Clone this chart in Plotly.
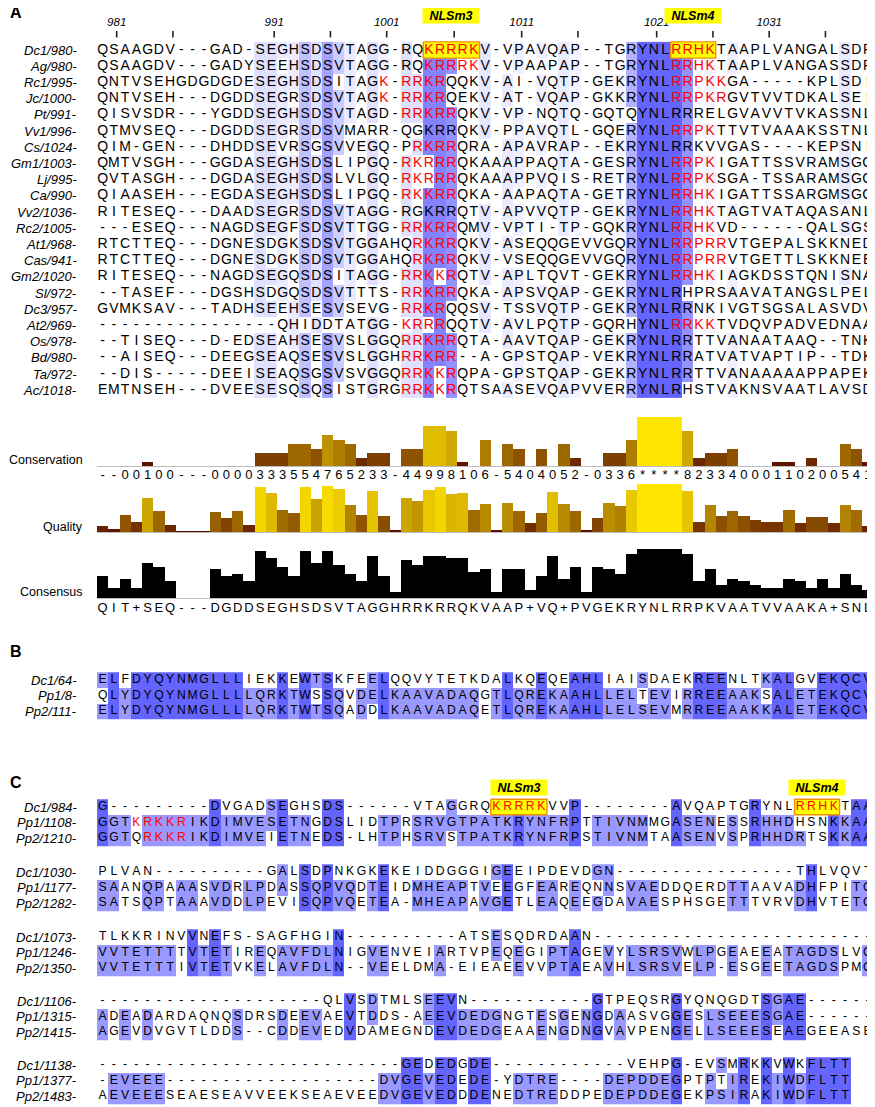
import plotly.graph_objects as go
from collections import Counter

# ------------------------------------------------------------------
# DATA
# ------------------------------------------------------------------
# Panel A : multiple alignment around the NLSm3 / NLSm4 motifs
A_NAMES = ["Dc1/980-", "Ag/980-", "Rc1/995-", "Jc/1000-", "Pt/991-", "Vv1/996-",
           "Cs/1024-", "Gm1/1003-", "Lj/995-", "Ca/990-", "Vv2/1036-", "Rc2/1005-",
           "At1/968-", "Cas/941-", "Gm2/1020-", "Sl/972-", "Dc3/957-", "At2/969-",
           "Os/978-", "Bd/980-", "Ta/972-", "Ac/1018-"]
A_SEQS = [
    "QSAAGDV---GAD-SEGHSDSVTAGG-RQKRRRKV-VPAVQAP--TGRYNLRRHKTAAPLVANGALSDP",
    "QSAAGDV---GADYSEEHSDSVTAGG-RQKRRRKV-VPAAPAP--TGRYNLRRHKTAAPLVANGASSDP",
    "QNTVSEHGDGDGDESEGHSDSITAGK-RRKRQQKV-AI-VQTP-GEKRYNLRRPKKGA-----KPLSDI",
    "QNTVSEH---DGDDSEGRSDSVTAGK-RRKRQEKV-AT-VQAP-GKKRYNLRRPKRGVTVVTDKALSEI",
    "QISVSDR---YGDDSEGHSDSVTAGD-RRKRRQKV-VP-NQTQ-GQTQYNLRRRELGVAVVTVKASSNL",
    "QTMVSEQ---DGDDSEGRSDSVMARR-QGKRRQKV-PPAVQTL-GQERYNLRRPKTTVTVAAAKSSTNL",
    "QIM-GEN---DHDDSEVRSGSVVEGQ-PRKRRQRA-APAVRAP--EKRYNLRRKVVGAS----KEPSNI",
    "QMTVSGH---GGDASEGHSDSLIPGQ-RKRRRQKAAAPPAQTA-GESRYNLRRPKIGATTSSVRAMSGG",
    "QVTASGH---DGDASEGHSDSLVLGQ-RKRRRQKAAAPPVQIS-RETRYNLRRPKSGA-TSSARAMSGG",
    "QIAASEH---EGDASEGHSDSLIPGQ-RKKRRQKA-AAPAQTA-GETRYNLRRHKIGATTSSARGMSGG",
    "RITESEQ---DAADSEGRSDSVTAGG-RGKRRQTV-APVVQTP-GEKRYNLRRHKTAGTVATAQASANL",
    "---ESEQ---NAGDSEGFSDSVTTGG-RRKRRQMV-VPTI-TP-GQKRYNLRRHKVD------QALSGS",
    "RTCTTEQ---DGNESDGKSDSVTGGAHQRKRRQKV-ASEQQGEVVGQRYNLRRPRRVTGEPALSKKNED",
    "RTCTTEQ---DGNESDGKSDSVTGGAHQRKRRQKV-VSEQQGEVVGQRYNLRRPRRVTGETTLSKKNEE",
    "RITESEQ---NAGDSEGQSDSITAGG-RRKKRQTV-APLTQVT-GEKRYNLRRHKIAGKDSSTQNISNA",
    "--TASEF---DGSHSDGQSDSVTTTS-RRKRRQKA-APSVQAP-GEKRYNLRHPRSAAVATANGSLPEL",
    "GVMKSAV---TADHSEEHSESVSEVG-RRKRQQSV-TSSVQTP-GEKRYNLRRNKIVGTSGSALASVDV",
    "----------------QHIDDTATGG-KRRRQQTV-AVLPQTP-GQRHYNLRRKKTVDQVPADVEDNAA",
    "--TISEQ---D-EDSEAHSESVSLGGQRRKRRQTA-AAVTQAP-GEKRYNLRRTTVANAATAAQ--TNK",
    "--AISEQ---DEEGSEAQSESVSLGGHRRKRR--A-GPSTQAP-VEKRYNLRRATVATVAPTIP--TDK",
    "--DIS-----DEEISEAQSGSVSVGGQRRKKRQPA-GPSTQAP-GEKRYNLRRTTVANAAAAAPPAPEK",
    "EMTNSEH---DVEESESQSQSISTGRGRRKKRQTSAASEVQAPVVERRYNLRHSTVAKNSVAATLAVSD",
]
# red (basic NLS) residues per row, as (first column, last column), 1-based
A_RED = [
    [(30, 34), (52, 55)], [(30, 34), (52, 55)], [(26, 26), (28, 31), (52, 56)],
    [(26, 26), (28, 31), (52, 56)], [(28, 32)], [(52, 55)], [(29, 32)],
    [(28, 32), (52, 55)], [(28, 32), (52, 55)], [(28, 32), (52, 55)], [(52, 55)],
    [(28, 32), (52, 55)], [(29, 32), (52, 56)], [(29, 32), (52, 56)],
    [(28, 32), (52, 55)], [(28, 32)], [(28, 31)], [(28, 31), (52, 55)],
    [(28, 32)], [(28, 32)], [(28, 32)], [(28, 32)],
]
A_BOXED = {0: [(30, 34), (52, 55)]}          # yellow-boxed motifs (row -> ranges)
A_NLS_LABELS = [("NLSm3", 30, 34), ("NLSm4", 52, 55)]
A_RULER_START = 980                           # number of first Dc1 residue
A_CONSERVATION = "--00100---0000333554765233-44998106-5404052-0336****82334000110200541"
A_QUALITY = [15, 9, 37, 22, 72, 45, 17, 3, 3, 3, 42, 30, 45, 17, 93, 81, 47, 40, 93, 70,
             95, 89, 57, 37, 85, 34, 7, 72, 65, 87, 93, 79, 81, 47, 60, 7, 62, 45, 20, 40,
             83, 60, 45, 7, 30, 62, 56, 87, 100, 100, 100, 100, 85, 23, 58, 35, 45, 35, 27, 23,
             23, 47, 20, 32, 32, 20, 57, 47, 15]
A_CONSENSUS = "QIT+SEQ---DGDDSEGHSDSVTAGGHRRKRRQKVAAP+VQ+PVGEKRYNLRRPKVAATVVAAKA+SNL"

# Panel B
B_NAMES = ["Dc1/64-", "Pp1/8-", "Pp2/111-"]
B_SEQS = [
    "ELFDYQYNMGLLLIEKKEWTSKFEELQQVYTETKDALKQEQEAHLIAISDAEKREENLTKALGVEKQCV",
    "QLYDYQYNMGLLLLQRKTWSSQVDELKAAVADAQGTLQREKAAHLLELTEVIRREEAAKSALETEKQCV",
    "ELYDYQYNMGLLLLQRKTWTSQADDLKAAVADAQETLQREKAAHLLELSEVMRREEAAKKALETEKQCV",
]

# Panel C (five wrapped blocks)
C_NAMES = [
    ["Dc1/984-", "Pp1/1108-", "Pp2/1210-"],
    ["Dc1/1030-", "Pp1/1177-", "Pp2/1282-"],
    ["Dc1/1073-", "Pp1/1246-", "Pp2/1350-"],
    ["Dc1/1106-", "Pp1/1315-", "Pp2/1415-"],
    ["Dc1/1138-", "Pp1/1377-", "Pp2/1483-"],
]
C_SEQS = [
    ["G---------DVGADSEGHSDS------VTAGGRQKRRRKVVP--------AVQAPTGRYNLRRHKTAA",
     "GGTKRKKRIKDIMVESETNGDSLIDTPRSRVGTPATKRYNFRPTTIVNMMGASENESSRHHDHSNKKAA",
     "GGTQRKKRIKDIMVEIETNEDS-LHTPHSRVSTPATKRYNFRPSTIVNMTAASENVSPRHHDRTSKKAA"],
    ["PLVAN----------GALSDPNKGKEKEIDDGGGIGEEIPDEVDGN----------------THLVQVT",
     "SAANQPAAASVDRLPDASSQPVQDTEIDMHEAPTVEEGFEAREQNNSVAEDDQERDTTAAVADHFPITQ",
     "SATSQPTAAAVDDLPEVISQPVQETEA-MHEAPAVGETLEAQEEGDAVAESPHSGETTTVRVDHVTETQ"],
    ["TLKKRINVVNEFS-SAGFHGIN----------ATSESQDRDAAN-------------------------",
     "VVTETTTTVTETIREQAVFDLNIGVENVEIARTVPEQEGIPTAGEVYLSRSVWLPGEAEEATAGDSLVQ",
     "VVTETTTIVTETVKELAVFDLN--VEELDMA-EIEAEEVVPTAEAVHLSRSVELP-ESGEETAGDSPMQ"],
    ["--------------------QLVSDTMLSEEVN-----------GTPEQSRGYQNQGDTSGAE------",
     "ADEADARDAQNQSDRSDEEVAEVTDDS-AEEVDEDGNGTESGENGDAASVGGESLSEEESGAE------",
     "AGEVDVGVTLDDS--CDDEVEDVDAMEGNDEVDEDGEAAENGDNGVAVPENGELLSEEESEAEGEEASE"],
    ["---------------------------GEDEDGDE------------VEHPG-EVSMRKKVWKFLTT",
     "-EVEEE-------------------DVGEVEDEDE-YDTRE----DEPDDEGPTPTIREKIWDFLTT",
     "AEVEEESEAESEAVVEEKSEAEVEEDVGEVEDDDENEDTREDDPEDEPDDEGEKPSIRAKIWDFLTT"],
]
C_RED = {(0, 1): [(4, 8)], (0, 2): [(5, 8)]}        # (block,row) -> ranges
C_BOXED = {(0, 0): [(36, 40), (63, 66)]}
C_NLS_LABELS = [("NLSm3", 36, 40), ("NLSm4", 63, 66)]

# ------------------------------------------------------------------
# LAYOUT CONSTANTS (page pixels; the page body has an 8 px margin)
# ------------------------------------------------------------------
PAGE_W, PAGE_H = 875, 1107
OFF = 8
FIG_W, FIG_H = PAGE_W - OFF, PAGE_H - OFF
COL_PX0 = 97.0
COL_W = 11.25
FONT = "Liberation Sans, Arial, Helvetica, sans-serif"
A_Y0, A_DY = 50.0, 16.2
B_Y0, BC_DY = 680.0, 15.5
C_Y0S = [807.0, 872.0, 937.0, 1001.0, 1065.0]
NAME_RIGHT_PX = 79
A_FS, BC_FS, NAME_FS = 14, 12.2, 13
RULER_SHIFT = 0.25          # ruler ticks sit slightly right of the column centre
BLUE_DARK = "#6464FF"


def px_x(p):
    return (p - COL_PX0) / COL_W + 0.5


fig = go.Figure()
annotations = []


def cons_weight(ch):
    if ch in "*+":
        return 1.0
    if ch == "-":
        return 0.0
    return max(0.0, min(1.0, (int(ch) - 1) / 10.0))


def pid_matrix(seqs, weights=None):
    n = len(seqs)
    L = max(len(s) for s in seqs)
    z = [[None] * L for _ in range(n)]
    for c in range(L):
        col = [s[c] for s in seqs if c < len(s)]
        cnt = Counter(ch for ch in col if ch != "-")
        if not cnt:
            continue
        m = max(cnt.values())
        modal = {k for k, v in cnt.items() if v == m}
        pct = 100.0 * m / n
        if pct > 80:
            t = 1.0
        elif pct > 60:
            t = 102 / 155
        elif pct > 40:
            t = 51 / 155
        else:
            continue
        w = 1.0 if weights is None else weights[c]
        if t * w <= 0.01:
            continue
        for r in range(n):
            if c < len(seqs[r]) and seqs[r][c] in modal:
                z[r][c] = t * w
    return z


def add_alignment(names, seqs, y0, dy, fs, red, boxed, weights=None):
    n = len(seqs)
    L = max(len(s) for s in seqs)
    ys = [y0 + i * dy for i in range(n)]
    xs = list(range(1, L + 1))
    z = pid_matrix(seqs, weights)
    fig.add_trace(go.Heatmap(x=xs, y=ys, z=z, zmin=0, zmax=1,
                             colorscale=[[0, "#FFFFFF"], [1, BLUE_DARK]],
                             showscale=False, hoverinfo="skip"))
    if boxed:
        zy = [[None] * L for _ in range(n)]
        for r, rngs in boxed.items():
            for a, b in rngs:
                for c in range(a, b + 1):
                    zy[r][c - 1] = 1
        fig.add_trace(go.Heatmap(x=xs, y=ys, z=zy, zmin=0, zmax=1,
                                 colorscale=[[0, "#FFFF00"], [1, "#FFFF00"]],
                                 showscale=False, hoverinfo="skip"))
        bx, by = [], []
        for r, rngs in boxed.items():
            for a, b in rngs:
                x0, x1 = a - 0.5, b + 0.5
                yt, yb = ys[r] - dy / 2, ys[r] + dy / 2
                bx += [x0, x1, x1, x0, x0, None]
                by += [yt, yt, yb, yb, yt, None]
        fig.add_trace(go.Scatter(x=bx, y=by, mode="lines", hoverinfo="skip",
                                 line=dict(color="#F29100", width=1.4), showlegend=False))
    kx, ky, kt, rx, ry, rt = [], [], [], [], [], []
    for r, s in enumerate(seqs):
        rr = list(red.get(r, [])) + list((boxed or {}).get(r, []))
        for c, ch in enumerate(s, start=1):
            if any(a <= c <= b for a, b in rr):
                rx.append(c); ry.append(ys[r]); rt.append(ch)
            else:
                kx.append(c); ky.append(ys[r]); kt.append(ch)
    fig.add_trace(go.Scatter(x=kx, y=ky, text=kt, mode="text", hoverinfo="skip",
                             textfont=dict(family=FONT, size=fs, color="black"),
                             showlegend=False))
    if rx:
        fig.add_trace(go.Scatter(x=rx, y=ry, text=rt, mode="text", hoverinfo="skip",
                                 textfont=dict(family=FONT, size=fs, color="#FF0000"),
                                 showlegend=False))
    for r, nm in enumerate(names):
        annotations.append(dict(x=px_x(NAME_RIGHT_PX), y=ys[r], xref="x", yref="y",
                                text="<i>%s</i>" % nm, showarrow=False,
                                xanchor="right", yanchor="middle",
                                font=dict(family=FONT, size=NAME_FS, color="black")))
    return ys


def nls_label(text, a, b, y):
    annotations.append(dict(x=(a + b) / 2.0, y=y, xref="x", yref="y",
                            text="<b><i>%s</i></b>" % text, showarrow=False,
                            xanchor="center", yanchor="middle", bgcolor="#FFFF00",
                            width=56, height=15, borderpad=0,
                            font=dict(family=FONT, size=12.5, color="black")))


def panel_label(text, y):
    annotations.append(dict(x=0, y=y, xref="paper", yref="y", text="<b>%s</b>" % text,
                            showarrow=False, xanchor="left", yanchor="middle",
                            font=dict(family=FONT, size=16, color="black")))


# ------------------------------------------------------------------
# PANEL A
# ------------------------------------------------------------------
panel_label("A", 12)
weights = [cons_weight(ch) for ch in A_CONSERVATION]
add_alignment(A_NAMES, A_SEQS, A_Y0, A_DY, A_FS,
              {i: r for i, r in enumerate(A_RED)}, A_BOXED, weights)
for nm, a, b in A_NLS_LABELS:
    nls_label(nm, a, b, 15)

# ruler from Dc1 residue numbering
tx, ty, lx, ly, lt = [], [], [], [], []
num = A_RULER_START - 1
for c, ch in enumerate(A_SEQS[0], start=1):
    if ch == "-":
        continue
    num += 1
    if num == A_RULER_START:
        continue
    if num % 5 == 1:
        tx += [c + RULER_SHIFT, c + RULER_SHIFT, None]; ty += [31, 37.5, None]
    if num % 10 == 1:
        lx.append(c + RULER_SHIFT); ly.append(23); lt.append("<i>%d</i>" % num)
fig.add_trace(go.Scatter(x=tx, y=ty, mode="lines", hoverinfo="skip", showlegend=False,
                         line=dict(color="#222222", width=1.6)))
fig.add_trace(go.Scatter(x=lx, y=ly, text=lt, mode="text", hoverinfo="skip",
                         showlegend=False,
                         textfont=dict(family=FONT, size=11.5, color="black")))

# annotation tracks
cols = list(range(1, len(A_CONSERVATION) + 1))


def grad(vprop):
    return "rgb(%d,%d,0)" % (round(255 * (0.3 + 0.7 * vprop)), round(255 * 0.9 * vprop))


cons_vals = [11 if ch in "*+" else (0 if ch == "-" else int(ch)) for ch in A_CONSERVATION]
qmax = max(A_QUALITY)
n_a = len(A_SEQS)
consensus_vals = []
for c in range(len(A_CONSENSUS)):
    cnt = Counter(s[c] for s in A_SEQS if s[c] != "-")
    v = 100.0 * max(cnt.values()) / n_a if cnt else 0
    consensus_vals.append(0 if A_CONSENSUS[c] == "-" else v)

for ax in ["y2", "y3", "y4"]:
    fig.add_trace(go.Scatter(x=[0.5, len(cols) + 0.5], y=[0, 0], mode="lines",
                             yaxis=ax, hoverinfo="skip", showlegend=False,
                             line=dict(color="#BDBDBD", width=2.2)))
fig.add_trace(go.Bar(x=cols, y=cons_vals, width=1, yaxis="y2", hoverinfo="skip",
                     marker=dict(color=[grad(v / 11.0) for v in cons_vals], line=dict(width=0)),
                     showlegend=False))
fig.add_trace(go.Bar(x=cols, y=A_QUALITY, width=1, yaxis="y3", hoverinfo="skip",
                     marker=dict(color=[grad(q / qmax) for q in A_QUALITY], line=dict(width=0)),
                     showlegend=False))
fig.add_trace(go.Bar(x=cols, y=consensus_vals, width=1, yaxis="y4", hoverinfo="skip",
                     marker=dict(color="black", line=dict(width=0)), showlegend=False))

fig.add_trace(go.Scatter(x=cols, y=[476] * len(cols), text=list(A_CONSERVATION),
                         mode="text", hoverinfo="skip", showlegend=False,
                         textfont=dict(family=FONT, size=13, color="black")))
fig.add_trace(go.Scatter(x=cols, y=[609] * len(cols), text=list(A_CONSENSUS),
                         mode="text", hoverinfo="skip", showlegend=False,
                         textfont=dict(family=FONT, size=13, color="black")))
for txt, yy in [("Conservation", 460), ("Quality", 527), ("Consensus", 592)]:
    annotations.append(dict(x=px_x(85), y=yy, xref="x", yref="y", text=txt,
                            showarrow=False, xanchor="right", yanchor="middle",
                            font=dict(family=FONT, size=12.5, color="black")))

# ------------------------------------------------------------------
# PANEL B
# ------------------------------------------------------------------
panel_label("B", 651)
add_alignment(B_NAMES, B_SEQS, B_Y0, BC_DY, BC_FS, {}, None)

# ------------------------------------------------------------------
# PANEL C
# ------------------------------------------------------------------
panel_label("C", 782)
for k, (nms, sqs) in enumerate(zip(C_NAMES, C_SEQS)):
    red = {r: v for (b, r), v in C_RED.items() if b == k}
    boxed = {r: v for (b, r), v in C_BOXED.items() if b == k}
    add_alignment(nms, sqs, C_Y0S[k], BC_DY, BC_FS, red, boxed or None)
for nm, a, b in C_NLS_LABELS:
    nls_label(nm, a, b, 787)

# ------------------------------------------------------------------
# LAYOUT
# ------------------------------------------------------------------
def dom(base_px, top_px):
    return [(PAGE_H - base_px) / FIG_H, (PAGE_H - top_px) / FIG_H]


fig.update_layout(
    width=FIG_W, height=FIG_H, autosize=False,
    margin=dict(l=0, r=0, t=0, b=0, pad=0),
    paper_bgcolor="white", plot_bgcolor="rgba(0,0,0,0)",
    showlegend=False, barmode="overlay", bargap=0,
    xaxis=dict(range=[px_x(OFF), px_x(PAGE_W)], visible=False, fixedrange=True),
    yaxis=dict(range=[PAGE_H, OFF], visible=False, fixedrange=True, domain=[0, 1]),
    yaxis2=dict(range=[0, 11], domain=dom(467, 417), visible=False, anchor="x",
                fixedrange=True),
    yaxis3=dict(range=[0, qmax], domain=dom(533, 484), visible=False, anchor="x",
                fixedrange=True),
    yaxis4=dict(range=[0, 100], domain=dom(599, 549), visible=False, anchor="x",
                fixedrange=True),
    annotations=annotations,
)

fig.write_html("out.html")
